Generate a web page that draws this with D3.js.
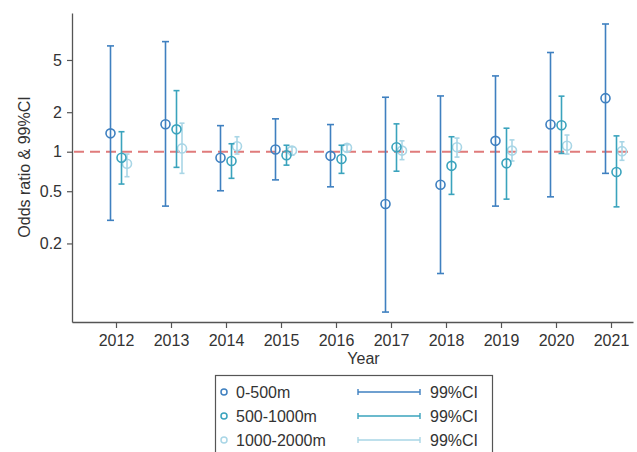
<!DOCTYPE html>
<html>
<head>
<meta charset="utf-8">
<script src="https://cdn.jsdelivr.net/npm/d3@7"></script>
<style>
body { margin: 0; background: #fff; }
text { font-family: "Liberation Sans", Arial, sans-serif; }
</style>
</head>
<body>
<script>
var years = [2012, 2013, 2014, 2015, 2016, 2017, 2018, 2019, 2020, 2021];
var seriesNames = ['0-500m', '500-1000m', '1000-2000m'];
var yTicks = [0.2, 0.5, 1, 2, 5];

// odds ratio, lower and upper 99% CI per year
var or0 = [1.38, 1.62, 0.90, 1.04, 0.93, 0.40, 0.56, 1.21, 1.61, 2.56];
var lo0 = [0.30, 0.385, 0.504, 0.61, 0.54, 0.060, 0.118, 0.385, 0.453, 0.684];
var hi0 = [6.4, 6.9, 1.58, 1.78, 1.61, 2.6, 2.66, 3.78, 5.7, 9.4];

var or1 = [0.90, 1.48, 0.85, 0.94, 0.88, 1.08, 0.78, 0.815, 1.59, 0.70];
var lo1 = [0.567, 0.76, 0.627, 0.79, 0.684, 0.71, 0.473, 0.435, 0.97, 0.38];
var hi1 = [1.42, 2.92, 1.15, 1.12, 1.12, 1.63, 1.30, 1.51, 2.65, 1.32];

var or2 = [0.81, 1.06, 1.10, 1.02, 1.07, 1.02, 1.08, 1.02, 1.11, 1.01];
var lo2 = [0.645, 0.684, 0.96, 0.94, 1.0, 0.87, 0.91, 0.85, 0.96, 0.86];
var hi2 = [0.96, 1.65, 1.30, 1.09, 1.13, 1.21, 1.27, 1.23, 1.34, 1.19];

var colors = ['#3f80c0', '#3aa3bd', '#a9d6e6'];
var offsets = [-0.1, 0.1, 0.2];
var capW = [7, 6, 5];

var svg = d3.select("body").append("svg")
	.attr("width", 637)
	.attr("height", 452)

var x = d3.scaleLinear().domain([2011.2, 2021.4]).range([72, 633]);
var y = d3.scaleLog().domain([0.0504, 11.4]).range([322, 13]);

// axes
var xAxis = svg.append("g")
	.attr("transform", "translate(0,322)")
	.call(d3.axisBottom(x).tickValues(years).tickFormat(d3.format("d")).tickSize(6).tickPadding(7).tickSizeOuter(0));

var yAxis = svg.append("g")
	.attr("transform", "translate(72,0)")
	.call(d3.axisLeft(y).tickValues(yTicks).tickFormat(function(d) { return d; }).tickSize(5).tickPadding(5).tickSizeOuter(0));

[xAxis, yAxis].forEach(function(a) {
	a.select(".domain").attr("stroke", "#555").attr("stroke-width", 1.3);
	a.selectAll(".tick line").attr("stroke", "#555").attr("stroke-width", 1.2);
	a.selectAll(".tick text").attr("fill", "#333").style("font-size", "16px")
		.style("font-family", '"Liberation Sans", Arial, sans-serif');
});

svg.append("text")
	.attr("x", x(2016.5))
	.attr("y", 364)
	.attr("text-anchor", "middle")
	.attr("fill", "#333")
	.style("font-size", "16px")
	.text("Year");

svg.append("text")
	.attr("transform", "translate(30," + 167 + ") rotate(-90)")
	.attr("text-anchor", "middle")
	.attr("fill", "#333")
	.style("font-size", "16px")
	.text("Odds ratio & 99%CI");

// reference line at OR = 1
svg.append("line")
	.attr("x1", 74).attr("x2", 633)
	.attr("y1", y(1)).attr("y2", y(1))
	.attr("stroke", "#e07b7b")
	.attr("stroke-width", 2)
	.attr("stroke-dasharray", "10,6");

var all = [[or0, lo0, hi0], [or1, lo1, hi1], [or2, lo2, hi2]];

// draw lightest series first so darker ones sit on top
for (var s = 2; s >= 0; s--) {
	var rows = years.map(function(yr, i) {
		return { year: yr, or: all[s][0][i], lo: all[s][1][i], hi: all[s][2][i] };
	});
	var g = svg.append("g");
	var off = offsets[s], col = colors[s], cw = capW[s];

	g.selectAll(".bar").data(rows).enter().append("line")
		.attr("x1", function(d) { return x(d.year + off); })
		.attr("x2", function(d) { return x(d.year + off); })
		.attr("y1", function(d) { return y(d.lo); })
		.attr("y2", function(d) { return y(d.hi); })
		.attr("stroke", col).attr("stroke-width", 1.6);

	["lo", "hi"].forEach(function(k) {
		g.selectAll(".cap" + k).data(rows).enter().append("line")
			.attr("x1", function(d) { return x(d.year + off) - cw / 2; })
			.attr("x2", function(d) { return x(d.year + off) + cw / 2; })
			.attr("y1", function(d) { return y(d[k]); })
			.attr("y2", function(d) { return y(d[k]); })
			.attr("stroke", col).attr("stroke-width", 1.6);
	});

	g.selectAll("circle").data(rows).enter().append("circle")
		.attr("cx", function(d) { return x(d.year + off); })
		.attr("cy", function(d) { return y(d.or); })
		.attr("r", 4.5)
		.attr("fill", "none")
		.attr("stroke", col)
		.attr("stroke-width", 1.6);
}

// legend
var leg = svg.append("g");
leg.append("rect")
	.attr("x", 215.5).attr("y", 375.5)
	.attr("width", 277).attr("height", 90)
	.attr("fill", "#fff")
	.attr("stroke", "#555")
	.attr("stroke-width", 1.2);

var rowY = [392, 416, 440];
seriesNames.forEach(function(name, i) {
	leg.append("circle")
		.attr("cx", 224).attr("cy", rowY[i]).attr("r", 3)
		.attr("fill", "none").attr("stroke", colors[i]).attr("stroke-width", 1.5);
	leg.append("text")
		.attr("x", 236).attr("y", rowY[i] + 6)
		.attr("fill", "#333").style("font-size", "16px")
		.text(name);
	leg.append("line")
		.attr("x1", 358).attr("x2", 420)
		.attr("y1", rowY[i]).attr("y2", rowY[i])
		.attr("stroke", colors[i]).attr("stroke-width", 1.4);
	[358, 420].forEach(function(cx) {
		leg.append("line")
			.attr("x1", cx).attr("x2", cx)
			.attr("y1", rowY[i] - 3).attr("y2", rowY[i] + 3)
			.attr("stroke", colors[i]).attr("stroke-width", 1.4);
	});
	leg.append("text")
		.attr("x", 430).attr("y", rowY[i] + 6)
		.attr("fill", "#333").style("font-size", "16px")
		.text("99%CI");
});
</script>
</body>
</html>
